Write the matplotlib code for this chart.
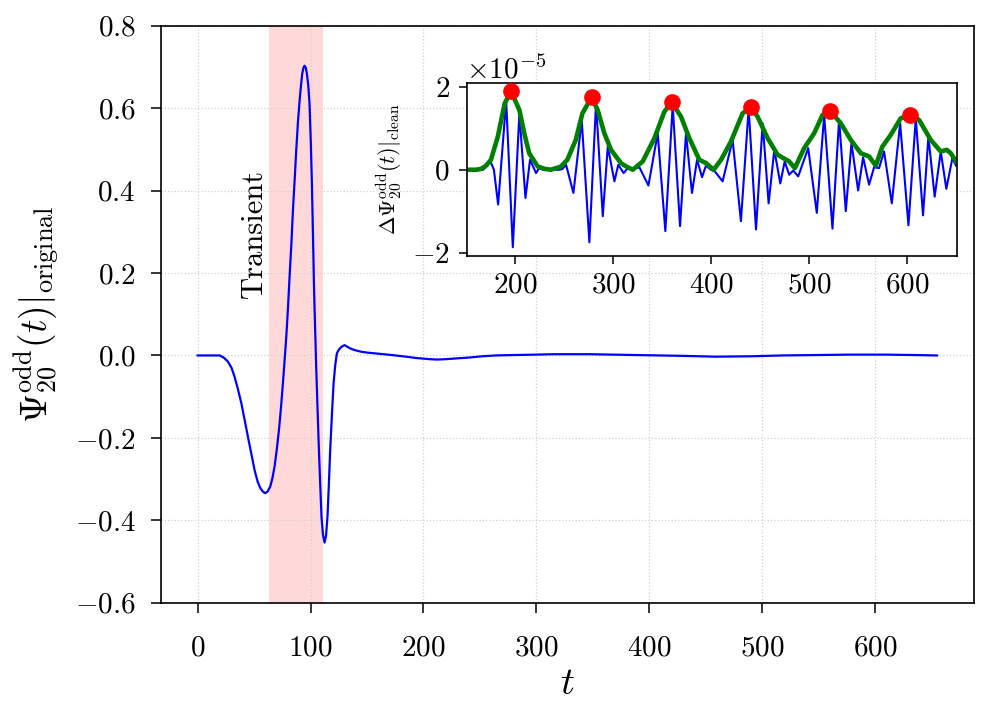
import matplotlib
matplotlib.use("Agg")
import matplotlib.pyplot as plt
import numpy as np

plt.rcParams['font.family'] = 'serif'
plt.rcParams['font.serif'] = ['cmr10', 'DejaVu Serif']
plt.rcParams['mathtext.fontset'] = 'cm'
plt.rcParams['axes.formatter.use_mathtext'] = True

# ---------------- main waveform ----------------
t_main = [0, 10, 19.5, 23, 26.8, 30, 32.7, 35.5, 38.7, 41.5, 44.5, 47.5, 50.4, 53, 55.5, 58, 59.9,
          62, 64.3, 66.2, 68.1, 70, 72, 73.8, 75.5, 77, 78.5, 80, 81.4, 83, 84.4, 86, 87.3, 88.8, 90.3,
          91.5, 92.6, 93.7, 94.7, 95.8, 96.8, 98, 99.1, 100.2, 101.2, 102.1, 103, 104, 105, 106.2,
          107.4, 108.6, 109.7, 111, 112.4, 113.7, 115, 116.2, 117.4, 119, 120.4, 121.8, 123.3, 124.8,
          126.3, 128, 130.1, 132, 134.5, 137, 140.4, 145, 150, 161, 172, 181.7, 193, 205.3, 212, 220,
          230, 240.7, 252, 264, 280, 299.7, 315, 329, 348, 367.6, 388, 408.8, 430, 459, 490, 518,
          548, 577, 610, 635, 655]
v_main = [0, 0, 0, -0.005, -0.015, -0.03, -0.052, -0.08, -0.116, -0.155, -0.197, -0.238, -0.278, -0.305,
          -0.322, -0.331, -0.334, -0.330, -0.318, -0.298, -0.27, -0.23, -0.181, -0.127, -0.068, -0.012,
          0.045, 0.115, 0.19, 0.27, 0.352, 0.43, 0.497, 0.565, 0.618, 0.655, 0.683, 0.698, 0.703, 0.698,
          0.683, 0.655, 0.61, 0.52, 0.417, 0.30, 0.174, 0.07, -0.028, -0.13, -0.229, -0.315, -0.391,
          -0.435, -0.454, -0.438, -0.391, -0.315, -0.229, -0.14, -0.068, -0.025, 0.005, 0.013, 0.018,
          0.022, 0.025, 0.022, 0.018, 0.015, 0.012, 0.009, 0.007, 0.004, 0.001, -0.002, -0.006, -0.009,
          -0.010, -0.009, -0.007, -0.005, -0.002, 0.0, 0.001, 0.002, 0.003, 0.003, 0.003, 0.002, 0.001,
          0.0, -0.001, -0.003, -0.002, 0.0, 0.001, 0.002, 0.002, 0.001, 0.0]

transient_start, transient_end = 62.8, 111.2

# ---------------- inset (units of 1e-5) ----------------
scale = 1e-5
t_diff = [150, 160, 167, 171, 174.5, 178, 182.3, 190.5, 197.3, 204, 210.2, 214.9, 221, 224.5, 228,
          235, 245, 248, 251.7, 259.2, 267.7, 275.5, 282.3, 289.2, 294.3, 301.1, 305, 310.5, 314.7,
          320, 326.6, 335.8, 345.3, 353.1, 360.6, 368.1, 374.2, 380.3, 385.5, 390.6, 394.6, 399.7,
          404, 411.6, 421.8, 430.3, 438.2, 445.7, 452.5, 458.6, 464.4, 470.5, 475, 479.6, 483.7,
          488.8, 499, 507.8, 515.3, 523.8, 530.6, 537.4, 543.2, 550, 555.1, 561.2, 566.3, 571.4,
          576.5, 584.4, 592.9, 601.4, 608.9, 616.3, 621.8, 628.2, 634.4, 640.1, 646.3, 650]
v_diff = [0, 0, 0, 0.1, 0.2, 0.0, -0.84, 1.67, -1.87, 1.36, -0.68, 0.24, -0.08, 0.05, 0.0,
          0.0, 0.0, 0.02, 0.12, -0.56, 1.2, -1.75, 1.6, -1.12, 0.56, -0.28, 0.12, -0.08, 0.04,
          0.02, 0.06, -0.38, 0.88, -1.48, 1.55, -1.36, 0.88, -0.56, 0.24, -0.18, 0.1, 0.0,
          -0.05, -0.28, 0.72, -1.24, 1.48, -1.44, 1.12, -0.81, 0.48, -0.33, 0.2, -0.12, -0.02,
          -0.16, 0.52, -1.04, 1.32, -1.42, 1.21, -1.0, 0.64, -0.5, 0.3, -0.36, 0.06, 0.04,
          0.44, -0.81, 1.12, -1.34, 1.24, -1.1, 0.8, -0.65, 0.44, -0.46, 0.28, 0.1]

t_env = [150, 160, 165, 170, 175, 182, 189, 195.6, 204, 209, 214, 222.7, 230, 236, 246, 253, 261.6,
         268.4, 277.8, 284, 290.8, 297.6, 307.8, 313, 319.8, 330, 341.9, 352.1, 359.6, 369.1, 377.6,
         387.8, 394.6, 402.5, 410, 420.1, 432, 440.6, 447.3, 457.6, 467.8, 479.6, 485.4, 494.9,
         505.1, 513.6, 521.4, 532.3, 542.5, 552.7, 561.2, 568, 574.8, 583.3, 593.5, 603.1, 612.3,
         624.2, 634.4, 640.5, 644.6, 650]
v_env = [0.0, 0.0, 0.02, 0.1, 0.24, 0.8, 1.6, 1.89, 1.44, 0.88, 0.4, 0.08, 0.02, 0.0, 0.07, 0.24, 0.72,
         1.36, 1.75, 1.44, 0.88, 0.48, 0.16, 0.08, 0.0, 0.2, 0.76, 1.4, 1.63, 1.28, 0.76,
         0.24, 0.16, 0.0, 0.24, 0.68, 1.36, 1.51, 1.28, 0.76, 0.36, 0.2, 0.04, 0.52,
         0.88, 1.32, 1.42, 1.12, 0.72, 0.4, 0.32, 0.1, 0.56, 0.84, 1.24, 1.33, 1.2,
         0.72, 0.44, 0.48, 0.4, 0.2]

t_peaks = [195.6, 277.8, 359.6, 440.6, 521.4, 603.1]
v_peaks = [1.89, 1.75, 1.63, 1.51, 1.42, 1.33]

# ---------------- figure ----------------
fig = plt.figure(figsize=(10, 7.19), dpi=100)
ax = fig.add_axes([0.1607, 0.1617, 0.8133, 0.8025])

ax.axvspan(transient_start, transient_end, color='red', alpha=0.15, lw=0)
ax.plot(t_main, v_main, color='blue', lw=1.6)
ax.text(50.4, 0.295, 'Transient', rotation=90, ha='center', va='center', fontsize=22)
ax.set_ylim(-0.6, 0.8)
ax.set_yticks(np.arange(-0.6, 0.81, 0.2))
ax.grid(True, ls=':', color='#d0d0d0', lw=0.9)
ax.set_xlabel(r'$t$', fontsize=28, labelpad=4)
ax.set_ylabel(r'$\Psi^{\mathrm{odd}}_{20}(t)|_{\mathrm{original}}$', fontsize=27, labelpad=10)
ax.tick_params(labelsize=21, length=7, width=1.1)
ax.tick_params(axis='x', pad=16)
ax.tick_params(axis='y', pad=11)
for s in ax.spines.values():
    s.set_linewidth(1.2)

ins = fig.add_axes([0.4665, 0.6440, 0.4905, 0.2410])
ins.plot(t_diff, np.array(v_diff) * scale, color='blue', lw=1.5)
ins.plot(t_env, np.array(v_env) * scale, color='green', lw=3.3)
ins.plot(t_peaks, np.array(v_peaks) * scale, 'o', color='red', ms=11, zorder=5)
ins.set_xlim(150, 651)
ins.set_ylim(-2.08 * scale, 2.1 * scale)
ins.set_xticks([200, 300, 400, 500, 600])
ins.set_yticks([-2 * scale, 0, 2 * scale])
ins.set_ylabel(r'$\Delta\Psi^{\mathrm{odd}}_{20}(t)|_{\mathrm{clean}}$', fontsize=16, labelpad=6)
ins.tick_params(labelsize=21, length=6, width=1.1, pad=6)
ins.yaxis.get_offset_text().set_fontsize(21)
for s in ins.spines.values():
    s.set_linewidth(1.2)

fig.savefig('out.png', dpi=100)
